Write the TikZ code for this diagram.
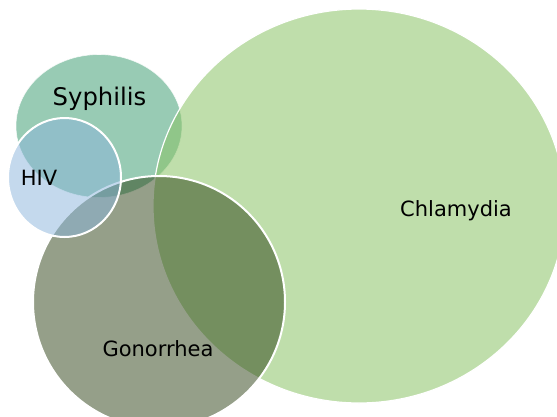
\documentclass[tikz,border=0pt]{standalone}
\usepackage{fontspec}
\setmainfont{DejaVu Sans}
\usetikzlibrary{shapes.geometric}
\definecolor{syphc}{RGB}{152,203,180}
\definecolor{chlamc}{RGB}{139,195,102}
\definecolor{gonc}{RGB}{39,61,16}
\definecolor{hivc}{RGB}{139,181,221}
\tikzset{
  bubble/.style={ellipse, inner sep=0pt, draw=white},
  lbl/.style={anchor=base, inner sep=0pt, text=black, font=\fontsize{21}{25}\selectfont},
}
\begin{document}
\begin{tikzpicture}[x=1pt,y=-1pt]
\useasboundingbox (0,0) rectangle (557,416);
\clip (0,0) rectangle (557,416);
\fill[white] (0,0) rectangle (557,416);
\node[bubble, fill=syphc, line width=0.6pt, draw opacity=0.8, minimum width=166pt, minimum height=143pt] (syph) at (99,126) {};
\node[bubble, fill=chlamc, fill opacity=0.55, line width=1.2pt, minimum width=412pt, minimum height=394pt] (chlam) at (359,206) {};
\node[bubble, fill=gonc, fill opacity=0.49, line width=2pt, minimum width=252pt, minimum height=252pt] (gon) at (159,302) {};
\node[bubble, fill=hivc, fill opacity=0.5, line width=2pt, minimum width=113pt, minimum height=119pt] (hiv) at (64.5,177.5) {};
\node[lbl, font=\fontsize{24.3}{29}\selectfont] (tsyph) at (99.5,105) {Syphilis};
\node[lbl] (thiv) at (39,185) {HIV};
\node[lbl] (tchlam) at (456,216.5) {Chlamydia};
\node[lbl] (tgon) at (158,356.5) {Gonorrhea};
\end{tikzpicture}
\end{document}
